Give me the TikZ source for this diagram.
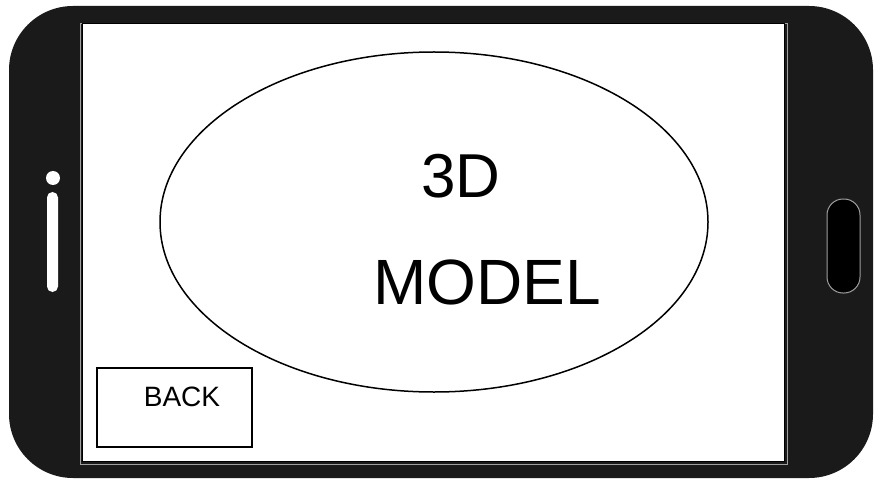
\documentclass[tikz,border=0pt]{standalone}
\usepackage{fontspec}
\setmainfont{Liberation Sans}
\usetikzlibrary{shapes.geometric}
\definecolor{body}{HTML}{1A1A1A}
\definecolor{rim}{HTML}{A0A0A0}
\tikzset{
  phonebody/.style={fill=body, draw=none},
  screenbox/.style={fill=white, draw=black, line width=1pt},
  btnbox/.style={draw=black, line width=1.3pt, fill=white},
  bigtext/.style={inner sep=0pt},
}
\begin{document}
\begin{tikzpicture}[x=1pt, y=-1pt]
\useasboundingbox (0,0) rectangle (880,481);
% phone body
\fill[phonebody, rounded corners=64pt] (9,6) rectangle (873,478);
% screen
\draw[rim, line width=0.8pt] (80,23) rectangle (787,464);
\draw[screenbox] (82,24) rectangle (784,461);
% left indicator
\fill[white] (53,178) circle (7);
\fill[white, rounded corners=5.5pt] (47,192) rectangle (58,292);
% right button
\draw[rim, fill=black, line width=1pt, rounded corners=16pt] (827,199) rectangle (860,293);
% 3D model ellipse
\node[ellipse, draw=black, line width=1.5pt, minimum width=548pt, minimum height=340pt, inner sep=0pt] (model) at (434,222) {};
\node[bigtext, font=\fontsize{62}{62}\selectfont] (t3d) at (461,176) {3D};
\node[bigtext, font=\fontsize{64}{64}\selectfont] (tmodel) at (487,282) {MODEL};
% back button
\node[btnbox, minimum width=155pt, minimum height=79pt, inner sep=0pt] (back) at (174.5,407.5) {};
\node[font=\fontsize{28}{28}\selectfont, inner sep=0pt] (backtext) at (182,397) {BACK};
\end{tikzpicture}
\end{document}
